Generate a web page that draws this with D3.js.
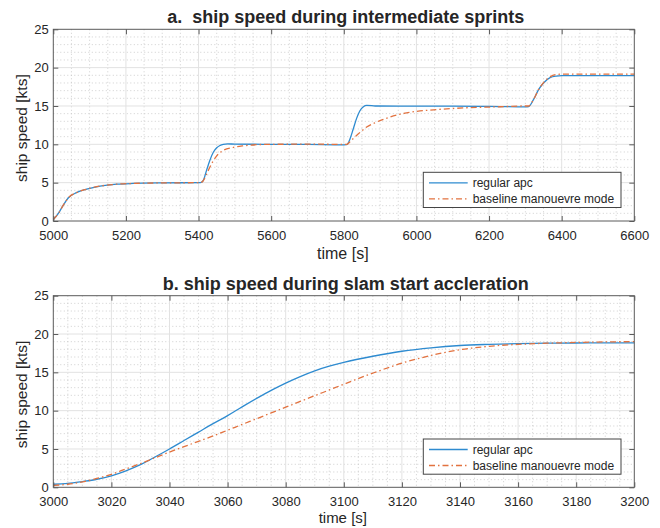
<!DOCTYPE html>
<html>
<head>
<meta charset="utf-8">
<script src="https://cdn.jsdelivr.net/npm/d3@7"></script>
<style>
  body { margin: 0; background: #fff; }
  svg { display: block; }
  text { font-family: "Liberation Sans", Arial, Helvetica, sans-serif; fill: #262626; }
</style>
</head>
<body>
<svg id="chart" width="660" height="528"></svg>
<script>
// ---- panel a: intermediate sprints ----
const sprintTicks = [5000, 5200, 5400, 5600, 5800, 6000, 6200, 6400, 6600];
const sprintApcTime = [5000, 5014, 5028, 5041, 5064, 5092, 5129, 5175, 5220, 5300, 5405, 5413, 5422, 5431, 5441, 5450, 5459, 5468, 5480, 5500, 5600, 5700, 5800, 5808, 5817, 5826, 5835, 5844, 5854, 5863, 5877, 5890, 6000, 6100, 6200, 6300, 6309, 6322, 6336, 6350, 6368, 6385, 6400, 6500, 6600];
const sprintApc = [0.2, 1.0, 2.1, 3.0, 3.7, 4.15, 4.55, 4.8, 4.9, 4.97, 5.0, 5.3, 6.6, 7.9, 9.0, 9.55, 9.85, 10.0, 10.06, 10.03, 10.0, 9.98, 9.93, 9.95, 10.7, 12.0, 13.35, 14.35, 14.9, 15.07, 15.05, 15.0, 14.98, 14.97, 14.95, 14.88, 14.92, 15.8, 17.1, 18.0, 18.7, 18.9, 18.95, 18.95, 18.95];
const sprintBaseTime = [5000, 5014, 5028, 5041, 5064, 5092, 5129, 5175, 5220, 5300, 5405, 5413, 5422, 5431, 5440, 5450, 5468, 5496, 5523, 5560, 5600, 5700, 5800, 5808, 5817, 5835, 5863, 5890, 5927, 5973, 6010, 6047, 6139, 6230, 6300, 6309, 6322, 6336, 6350, 6368, 6385, 6400, 6500, 6600];
const sprintBase = [0.2, 1.0, 2.1, 3.0, 3.7, 4.15, 4.55, 4.8, 4.9, 4.97, 5.0, 5.25, 6.1, 7.0, 7.8, 8.5, 9.2, 9.6, 9.8, 9.95, 10.0, 10.02, 10.0, 10.0, 10.35, 11.15, 12.25, 12.9, 13.55, 14.1, 14.35, 14.5, 14.77, 14.9, 15.0, 15.0, 15.8, 17.1, 18.05, 18.8, 19.1, 19.15, 19.15, 19.15];

// ---- panel b: slam start acceleration ----
const slamTicks = [3000, 3020, 3040, 3060, 3080, 3100, 3120, 3140, 3160, 3180, 3200];
const slamTime = [3000, 3005, 3010, 3015, 3020, 3025, 3030, 3035, 3040, 3045, 3050, 3055, 3060, 3065, 3070, 3075, 3080, 3085, 3090, 3095, 3100, 3110, 3120, 3130, 3140, 3150, 3160, 3170, 3180, 3190, 3200];
const slamApc = [0.4, 0.5, 0.75, 1.05, 1.5, 2.15, 2.95, 3.95, 5.0, 6.1, 7.2, 8.3, 9.35, 10.5, 11.6, 12.65, 13.6, 14.45, 15.2, 15.8, 16.3, 17.1, 17.75, 18.2, 18.5, 18.65, 18.75, 18.8, 18.83, 18.85, 18.85];
const slamBase = [0.25, 0.4, 0.7, 1.15, 1.7, 2.4, 3.1, 3.85, 4.6, 5.3, 6.0, 6.7, 7.45, 8.2, 8.95, 9.7, 10.45, 11.2, 11.95, 12.7, 13.45, 14.9, 16.2, 17.2, 17.95, 18.4, 18.65, 18.8, 18.9, 18.97, 19.0];

const speedTicks = [0, 5, 10, 15, 20, 25];
const seriesNames = ["regular apc", "baseline manouevre mode"];
const seriesColors = ["#2e8bd0", "#e2723f"];
const seriesDash = [null, "6,3,1.5,3"];

const panels = [
  { title: "a.  ship speed during intermediate sprints", xTicks: sprintTicks, xMinor: 50,
    top: 29.3, bottom: 221, legendTop: 172.3, xLabelY: 258.5, xLabelSize: 16,
    series: [
      { t: sprintApcTime, v: sprintApc },
      { t: sprintBaseTime, v: sprintBase }
    ] },
  { title: "b. ship speed during slam start accleration", xTicks: slamTicks, xMinor: 5,
    top: 295.7, bottom: 487.3, legendTop: 439, xLabelY: 523, xLabelSize: 15,
    series: [
      { t: slamTime, v: slamApc },
      { t: slamTime, v: slamBase }
    ] }
];

const svg = d3.select("#chart");
svg.append("rect").attr("width", 660).attr("height", 528).attr("fill", "#fff");

const left = 53.3, right = 634.3;
const tickLen = 5;

panels.forEach(p => {
  const x = d3.scaleLinear().domain(d3.extent(p.xTicks)).range([left, right]);
  const y = d3.scaleLinear().domain(d3.extent(speedTicks)).range([p.bottom, p.top]);
  const g = svg.append("g");

  // minor grid (dotted)
  const [x0, x1] = x.domain();
  const xMinorVals = d3.range(x0, x1 + 1e-9, p.xMinor).filter(v => !p.xTicks.includes(v));
  const yMinorVals = d3.range(0, 25.0001, 1).filter(v => !speedTicks.includes(v));
  g.append("g").selectAll("line").data(xMinorVals).join("line")
    .attr("x1", d => x(d)).attr("x2", d => x(d))
    .attr("y1", p.top).attr("y2", p.bottom)
    .attr("stroke", "#c4c4c4").attr("stroke-width", 0.8).attr("stroke-dasharray", "1,2.5");
  g.append("g").selectAll("line").data(yMinorVals).join("line")
    .attr("x1", left).attr("x2", right)
    .attr("y1", d => y(d)).attr("y2", d => y(d))
    .attr("stroke", "#c4c4c4").attr("stroke-width", 0.8).attr("stroke-dasharray", "1,2.5");

  // major grid
  g.append("g").selectAll("line").data(p.xTicks.slice(1, -1)).join("line")
    .attr("x1", d => x(d)).attr("x2", d => x(d))
    .attr("y1", p.top).attr("y2", p.bottom)
    .attr("stroke", "#e2e2e2").attr("stroke-width", 1);
  g.append("g").selectAll("line").data(speedTicks.slice(1, -1)).join("line")
    .attr("x1", left).attr("x2", right)
    .attr("y1", d => y(d)).attr("y2", d => y(d))
    .attr("stroke", "#e2e2e2").attr("stroke-width", 1);

  // data lines
  const line = d3.line().curve(d3.curveMonotoneX).x(d => x(d[0])).y(d => y(d[1]));
  p.series.forEach((s, i) => {
    const pts = s.t.map((t, k) => [t, s.v[k]]);
    g.append("path").datum(pts)
      .attr("d", line)
      .attr("fill", "none")
      .attr("stroke", seriesColors[i])
      .attr("stroke-width", 1.3)
      .attr("stroke-dasharray", seriesDash[i]);
  });

  // axes with inward ticks on all four sides
  const ax = g.append("g").attr("class", "axes");
  ax.append("g").attr("transform", `translate(0,${p.bottom})`)
    .call(d3.axisBottom(x).tickValues(p.xTicks).tickSizeInner(-tickLen).tickSizeOuter(0)
      .tickPadding(9.5).tickFormat(d3.format("d")));
  ax.append("g").attr("transform", `translate(0,${p.top})`)
    .call(d3.axisTop(x).tickValues(p.xTicks).tickSizeInner(-tickLen).tickSizeOuter(0).tickFormat(""));
  ax.append("g").attr("transform", `translate(${left},0)`)
    .call(d3.axisLeft(y).tickValues(speedTicks).tickSizeInner(-tickLen).tickSizeOuter(0).tickPadding(4.5).tickFormat(d3.format("d")));
  ax.append("g").attr("transform", `translate(${right},0)`)
    .call(d3.axisRight(y).tickValues(speedTicks).tickSizeInner(-tickLen).tickSizeOuter(0).tickFormat(""));
  ax.selectAll(".domain").remove();
  ax.selectAll(".tick line").attr("stroke", "#5a5a5a");
  ax.selectAll(".tick text").attr("font-size", 13).attr("fill", "#262626")
    .attr("font-family", '"Liberation Sans", Arial, sans-serif');

  // box
  g.append("rect").attr("x", left).attr("y", p.top)
    .attr("width", right - left).attr("height", p.bottom - p.top)
    .attr("fill", "none").attr("stroke", "#5a5a5a").attr("stroke-width", 1);

  // title and axis labels
  g.append("text").attr("x", (left + right) / 2 + 2).attr("y", p.top - 6)
    .attr("text-anchor", "middle").attr("font-size", 18).attr("font-weight", "bold")
    .style("white-space", "pre").text(p.title);
  g.append("text").attr("x", (left + right) / 2 - 1).attr("y", p.xLabelY)
    .attr("text-anchor", "middle").attr("font-size", p.xLabelSize).text("time [s]");
  g.append("text")
    .attr("transform", `translate(26.5,${(p.top + p.bottom) / 2 + 3}) rotate(-90)`)
    .attr("text-anchor", "middle").attr("font-size", 15.5).text("ship speed [kts]");

  // legend
  const lg = g.append("g").attr("transform", `translate(423.3,${p.legendTop})`);
  lg.append("rect").attr("width", 197.7).attr("height", 35.2)
    .attr("fill", "#fff").attr("stroke", "#444").attr("stroke-width", 1);
  seriesNames.forEach((name, i) => {
    const cy = 10.5 + i * 16;
    lg.append("line").attr("x1", 5.7).attr("x2", 44.4).attr("y1", cy).attr("y2", cy)
      .attr("stroke", seriesColors[i]).attr("stroke-width", 1.3)
      .attr("stroke-dasharray", seriesDash[i]);
    lg.append("text").attr("x", 49.4).attr("y", cy + 4.2)
      .attr("font-size", 12).text(name);
  });
});
</script>
</body>
</html>
